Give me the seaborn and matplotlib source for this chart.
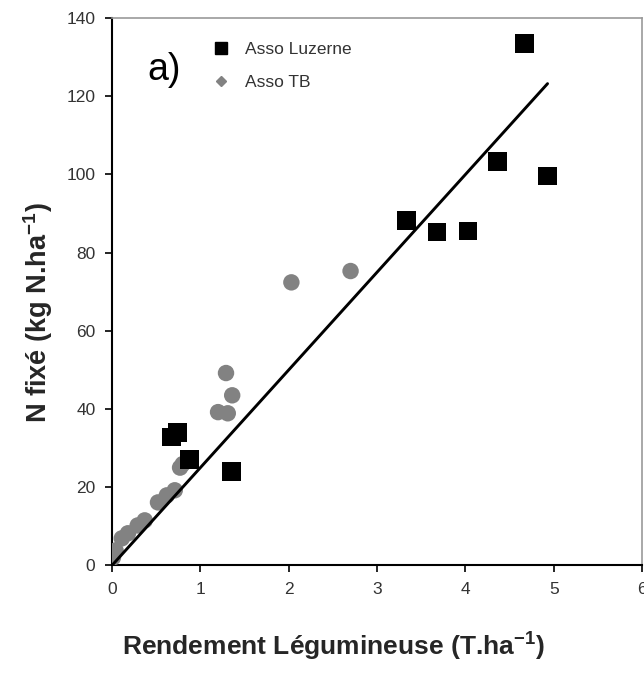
import numpy as np
import pandas as pd
import matplotlib
matplotlib.use("Agg")
import matplotlib.pyplot as plt
from matplotlib.lines import Line2D
import seaborn as sns

# Yield of the legume (T/ha) and fixed nitrogen (kg N/ha)
luzerne_x = [4.67, 4.93, 4.36, 3.33, 3.68, 4.03, 0.67, 0.74, 0.88, 1.35]
luzerne_y = [133.6, 99.6, 103.4, 88.3, 85.3, 85.5, 32.8, 34.0, 27.0, 24.0]

tb_x = [2.70, 2.03, 1.29, 1.36, 1.20, 1.31, 0.80, 0.77, 0.71, 0.62, 0.52,
        0.37, 0.29, 0.18, 0.11, 0.04, 0.01]
tb_y = [75.3, 72.4, 49.2, 43.5, 39.2, 38.9, 25.9, 25.0, 19.2, 17.9, 16.1,
        11.5, 10.2, 8.2, 6.9, 3.8, 2.0]

series_names = ["Asso Luzerne", "Asso TB"]
trend_slope = 25.0  # linear trend through the origin

x_ticks = [0, 1, 2, 3, 4, 5, 6]
y_ticks = [0, 20, 40, 60, 80, 100, 120, 140]

sns.set_style("ticks")
plt.rcParams["font.family"] = ["Liberation Sans", "DejaVu Sans"]
plt.rcParams["mathtext.fontset"] = "custom"
plt.rcParams["mathtext.rm"] = "Liberation Sans"
plt.rcParams["mathtext.bf"] = "Liberation Sans:bold"

df = pd.DataFrame({
    "x": luzerne_x + tb_x,
    "y": luzerne_y + tb_y,
    "serie": [series_names[0]] * len(luzerne_x) + [series_names[1]] * len(tb_x),
})

fig = plt.figure(figsize=(6.44, 6.73), dpi=100)
ax = fig.add_axes([0.174, 0.160, 0.823, 0.813])

sns.scatterplot(data=df[df.serie == series_names[1]], x="x", y="y", ax=ax,
                color="#828282", marker="o", s=140, edgecolor="none",
                legend=False, zorder=3)
sns.scatterplot(data=df[df.serie == series_names[0]], x="x", y="y", ax=ax,
                color="black", marker="s", s=180, edgecolor="none",
                legend=False, zorder=4)

xl = np.array([0.0, max(df.x)])
ax.plot(xl, trend_slope * xl, color="black", lw=2.1, zorder=5)

ax.set_xlim(0, 6)
ax.set_ylim(0, 140)
ax.set_xticks(x_ticks)
ax.set_yticks(y_ticks)
ax.tick_params(axis="both", labelsize=12.5, labelcolor="#333333",
               length=5, width=1.2, color="black", direction="out", pad=7)

for side in ["left", "bottom"]:
    ax.spines[side].set_color("black")
    ax.spines[side].set_linewidth(1.5)
for side in ["top", "right"]:
    ax.spines[side].set_visible(True)
    ax.spines[side].set_color("#999999")
    ax.spines[side].set_linewidth(1.2)

ax.set_xlabel(r"Rendement Légumineuse (T.ha$^{\mathbf{-1}}$)",
              fontsize=19, fontweight="bold")
ax.set_ylabel(r"N fixé (kg N.ha$^{\mathbf{-1}}$)",
              fontsize=19.5, fontweight="bold")
ax.xaxis.set_label_coords(0.417, -0.146)
ax.xaxis.label.set_verticalalignment("center")
ax.yaxis.set_label_coords(-0.14, 0.4625)
ax.yaxis.label.set_verticalalignment("center")

handles = [
    Line2D([], [], ls="none", marker="s", color="black", markersize=8),
    Line2D([], [], ls="none", marker="D", color="#828282", markersize=5.5),
]
leg = ax.legend(handles, series_names, loc="upper left",
                bbox_to_anchor=(0.16, 0.986), frameon=False,
                fontsize=12.5, handletextpad=0.9, labelspacing=1.05,
                handlelength=1.0)
for t in leg.get_texts():
    t.set_color("#333333")

ax.text(0.066, 0.905, "a)", transform=ax.transAxes, fontsize=27,
        color="black", va="center", ha="left")

fig.savefig("out.png", dpi=100)
